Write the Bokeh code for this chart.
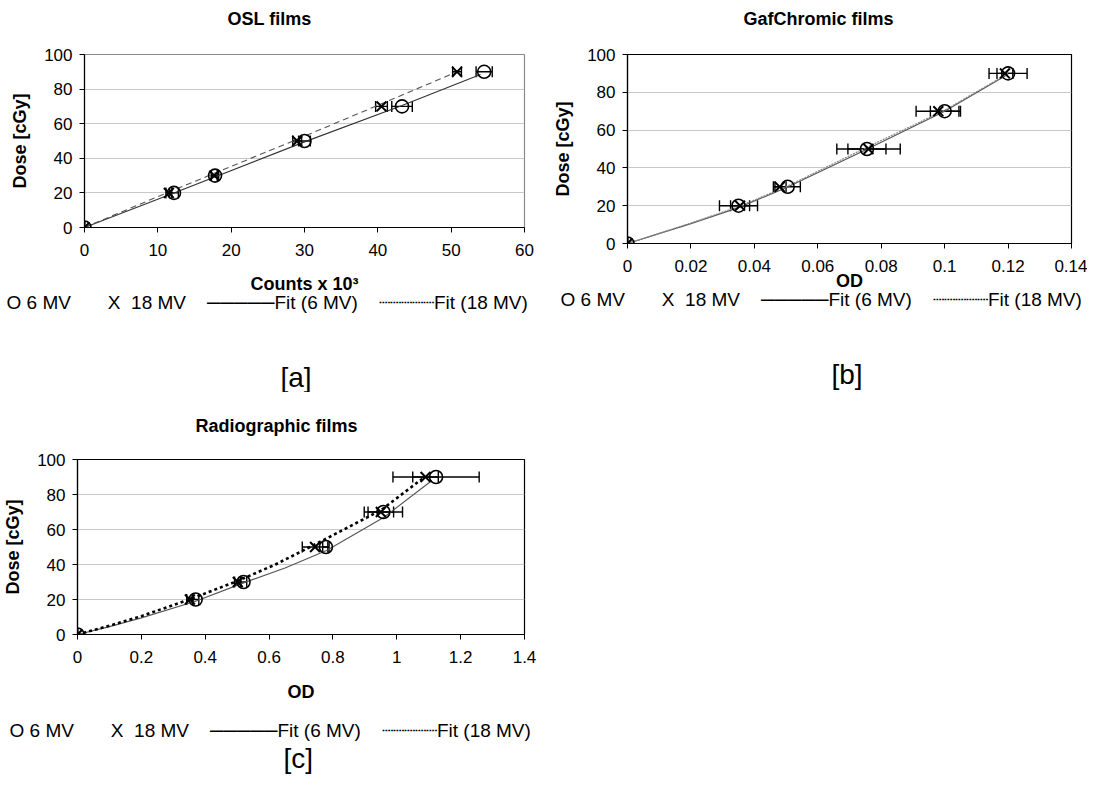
from bokeh.plotting import figure
from bokeh.models import (ColumnDataSource, Whisker, FixedTicker, Range1d,
                          TeeHead, Title)
from bokeh.layouts import column, row
from bokeh.embed import file_html
from bokeh.resources import INLINE

# ---------------- data ----------------
dose = [0, 20, 30, 50, 70, 90]

# OSL films (counts x 10^3)
osl_6mv = [0, 12.2, 17.8, 30.0, 43.3, 54.5]
osl_6mv_err = [0, 0.6, 0.5, 0.8, 1.4, 1.1]
osl_18mv = [0, 11.5, 17.7, 29.0, 40.5, 50.8]
osl_18mv_err = [0, 0.4, 0.4, 0.6, 0.8, 0.6]
osl_fit6_x = [0, 12.2, 30.0, 43.3, 54.0]
osl_fit6_y = [0, 20.0, 49.5, 70.5, 88.5]
osl_fit18_x = [0, 11.5, 29.0, 40.5, 50.8]
osl_fit18_y = [0, 20.5, 51.0, 71.5, 90.0]
osl_xticks = [0, 10, 20, 30, 40, 50, 60]
osl_xlabels = ["0", "10", "20", "30", "40", "50", "60"]

# GafChromic films (OD)
gaf_6mv = [0, 0.0350, 0.0505, 0.0755, 0.1000, 0.1200]
gaf_6mv_err = [0, 0.0060, 0.0040, 0.0060, 0.0045, 0.0060]
gaf_18mv = [0, 0.0355, 0.0480, 0.0760, 0.0980, 0.1190]
gaf_18mv_err = [0, 0.0030, 0.0020, 0.0100, 0.0070, 0.0025]
gaf_fit_x = [0, 0.02, 0.035, 0.05, 0.075, 0.1, 0.12]
gaf_fit6_y = [0, 10.5, 19.0, 29.5, 49.5, 70.0, 89.5]
gaf_fit18_y = [0, 10.8, 19.5, 30.0, 50.5, 70.5, 90.0]
gaf_xticks = [0, 0.02, 0.04, 0.06, 0.08, 0.1, 0.12, 0.14]
gaf_xlabels = ["0", "0.02", "0.04", "0.06", "0.08", "0.1", "0.12", "0.14"]

# Radiographic films (OD)
rad_6mv = [0, 0.370, 0.520, 0.778, 0.958, 1.123]
rad_6mv_err = [0, 0.010, 0.010, 0.010, 0.060, 0.135]
rad_18mv = [0, 0.352, 0.502, 0.744, 0.950, 1.090]
rad_18mv_err = [0, 0.010, 0.010, 0.040, 0.040, 0.040]
rad_fit6_x = [0, 0.1, 0.2, 0.37, 0.52, 0.65, 0.78, 0.96, 1.11]
rad_fit6_y = [0, 4.5, 9.5, 19.0, 29.5, 38.0, 48.0, 67.0, 88.0]
rad_fit18_x = [0, 0.1, 0.2, 0.35, 0.5, 0.62, 0.75, 0.95, 1.08]
rad_fit18_y = [0, 5.0, 10.5, 20.0, 30.5, 40.0, 52.0, 71.0, 89.0]
rad_xticks = [0, 0.2, 0.4, 0.6, 0.8, 1.0, 1.2, 1.4]
rad_xlabels = ["0", "0.2", "0.4", "0.6", "0.8", "1", "1.2", "1.4"]

yticks = [0, 20, 40, 60, 80, 100]

NB = "\u00a0"
legend_text = ("O" + NB + "6 MV" + NB * 7 + "X" + NB * 2 + "18 MV" + NB * 4 +
               "\u2500" * 5 + "Fit (6 MV)" + NB * 4 + "\u2508" * 5 + "Fit (18 MV)")

FONT = "Liberation Sans"


def spacer(gap):
    return Title(text=NB, text_font_size="1px", standoff=gap, text_color="white")


def build(spec):
    L, R, T, B = spec["frame"]
    ox, oy, W, H = spec["fig"]
    x0, x1 = spec["xr"]
    p = figure(frame_width=R - L, frame_height=B - T,
               min_border_left=L - ox, min_border_right=ox + W - R,
               min_border_top=T - oy, min_border_bottom=oy + H - B,
               x_range=Range1d(x0, x1), y_range=Range1d(0, 100),
               title=None,
               output_backend="svg", toolbar_location=None)
    p.background_fill_color = "white"
    p.border_fill_color = "white"
    p.outline_line_color = spec["outline"]
    p.outline_line_width = 1.2

    # axes
    p.xaxis.ticker = FixedTicker(ticks=spec["xticks"])
    p.xaxis.major_label_overrides = dict(zip(spec["xticks"], spec["xlabels"]))
    p.yaxis.ticker = FixedTicker(ticks=yticks)
    for ax in (p.xaxis[0], p.yaxis[0]):
        ax.axis_line_color = "black"
        ax.axis_line_width = 1.2
        ax.major_tick_line_color = "black"
        ax.major_tick_in = 0
        ax.major_tick_out = 5
        ax.minor_tick_line_color = None
        ax.major_label_text_font = FONT
        ax.major_label_text_font_size = "17px"
        ax.major_label_text_color = "black"
        ax.axis_label_text_font = FONT
        ax.axis_label_text_font_size = "18px"
        ax.axis_label_text_font_style = "bold"
        ax.axis_label_text_color = "black"
    p.xaxis.major_label_standoff = 11
    p.yaxis.major_label_standoff = 7
    p.xaxis.axis_label = spec["xlabel"]
    p.yaxis.axis_label = "Dose [cGy]"
    p.xaxis.axis_label_standoff = spec["xl_standoff"]
    p.yaxis.axis_label_standoff = 11
    p.xgrid.visible = False
    p.ygrid.ticker = FixedTicker(ticks=yticks)
    p.ygrid.grid_line_color = "#c8c8c8"
    p.ygrid.grid_line_width = 1

    # fits
    p.line(spec["fit6_x"], spec["fit6_y"], **spec["fit6_style"])
    p.line(spec["fit18_x"], spec["fit18_y"], **spec["fit18_style"])

    # error bars
    for xs, err in ((spec["x6"], spec["e6"]), (spec["x18"], spec["e18"])):
        src = ColumnDataSource(dict(
            y=dose, lo=[a - e for a, e in zip(xs, err)],
            hi=[a + e for a, e in zip(xs, err)]))
        p.add_layout(Whisker(source=src, base="y", lower="lo", upper="hi",
                             dimension="width", line_color="black", line_width=1.4,
                             upper_head=TeeHead(size=11, line_width=1.4, line_color="black"),
                             lower_head=TeeHead(size=11, line_width=1.4, line_color="black")))

    # markers
    p.scatter(spec["x6"], dose, marker="circle", size=13, fill_color=None,
              line_color="black", line_width=1.6)
    p.scatter(spec["x18"], dose, marker="x", size=14, line_color="black",
              line_width=2)

    # title above (spacer closest to the frame, then the title)
    p.add_layout(spacer(spec["title_gap"]), "above")
    p.add_layout(Title(text=spec["title"], align="left", offset=spec["title_dx"],
                       standoff=0, text_font=FONT, text_font_size="18px",
                       text_font_style="bold", text_color="black"), "above")

    # legend row and panel letter below the axis
    if spec["legend_gap"] is not None:
        p.add_layout(spacer(spec["legend_gap"]), "below")
    p.add_layout(Title(text=legend_text, align="left", offset=spec["legend_dx"],
                       standoff=spec["legend_standoff"], text_font=FONT,
                       text_font_size="19px", text_font_style="normal",
                       text_color="black"), "below")
    if spec["letter_gap"] is not None:
        p.add_layout(spacer(spec["letter_gap"]), "below")
    p.add_layout(Title(text=spec["letter"], align="left", offset=spec["letter_dx"],
                       standoff=spec["letter_standoff"], text_font=FONT,
                       text_font_size="28px", text_font_style="normal",
                       text_color="black"), "below")
    return p


spec_a = dict(frame=(92, 532, 59, 232), fig=(8, 8, 550, 392), xr=(0, 60),
              outline="#8a8a8a", xticks=osl_xticks, xlabels=osl_xlabels,
              xlabel="Counts x 10\u00b3", xl_standoff=15,
              x6=osl_6mv, e6=osl_6mv_err, x18=osl_18mv, e18=osl_18mv_err,
              fit6_x=osl_fit6_x, fit6_y=osl_fit6_y,
              fit18_x=osl_fit18_x, fit18_y=osl_fit18_y,
              fit6_style=dict(line_color="#333333", line_width=1.1),
              fit18_style=dict(line_color="#555555", line_width=1.1, line_dash="6 4"),
              title="OSL films", title_dx=143, title_gap=23,
              legend_gap=None, legend_dx=-78, legend_standoff=-13,
              letter="[a]", letter_dx=196, letter_gap=50, letter_standoff=0)

spec_b = dict(frame=(634, 1078, 62, 251), fig=(558, 8, 536, 392), xr=(0, 0.14),
              outline="black", xticks=gaf_xticks, xlabels=gaf_xlabels,
              xlabel="OD", xl_standoff=-4,
              x6=gaf_6mv, e6=gaf_6mv_err, x18=gaf_18mv, e18=gaf_18mv_err,
              fit6_x=gaf_fit_x, fit6_y=gaf_fit6_y,
              fit18_x=gaf_fit_x, fit18_y=gaf_fit18_y,
              fit6_style=dict(line_color="#555555", line_width=1.2),
              fit18_style=dict(line_color="#888888", line_width=1.2, line_dash="2 1"),
              title="GafChromic films", title_dx=116, title_gap=23,
              legend_gap=None, legend_dx=-67, legend_standoff=-13,
              letter="[b]", letter_dx=204, letter_gap=50, letter_standoff=0)

spec_c = dict(frame=(82, 529, 467, 642), fig=(8, 400, 550, 382), xr=(0, 1.4),
              outline="black", xticks=rad_xticks, xlabels=rad_xlabels,
              xlabel="OD", xl_standoff=16,
              x6=rad_6mv, e6=rad_6mv_err, x18=rad_18mv, e18=rad_18mv_err,
              fit6_x=rad_fit6_x, fit6_y=rad_fit6_y,
              fit18_x=rad_fit18_x, fit18_y=rad_fit18_y,
              fit6_style=dict(line_color="#555555", line_width=1.1),
              fit18_style=dict(line_color="black", line_width=2.6, line_dash="3 3"),
              title="Radiographic films", title_dx=118, title_gap=21,
              legend_gap=10, legend_dx=-68, legend_standoff=0,
              letter="[c]", letter_dx=206, letter_gap=None, letter_standoff=0)

pa = build(spec_a)
pb = build(spec_b)
pc = build(spec_c)

layout = column(row(pa, pb, spacing=0), row(pc, spacing=0), spacing=0)

with open("out.html", "w") as f:
    f.write(file_html(layout, INLINE))
